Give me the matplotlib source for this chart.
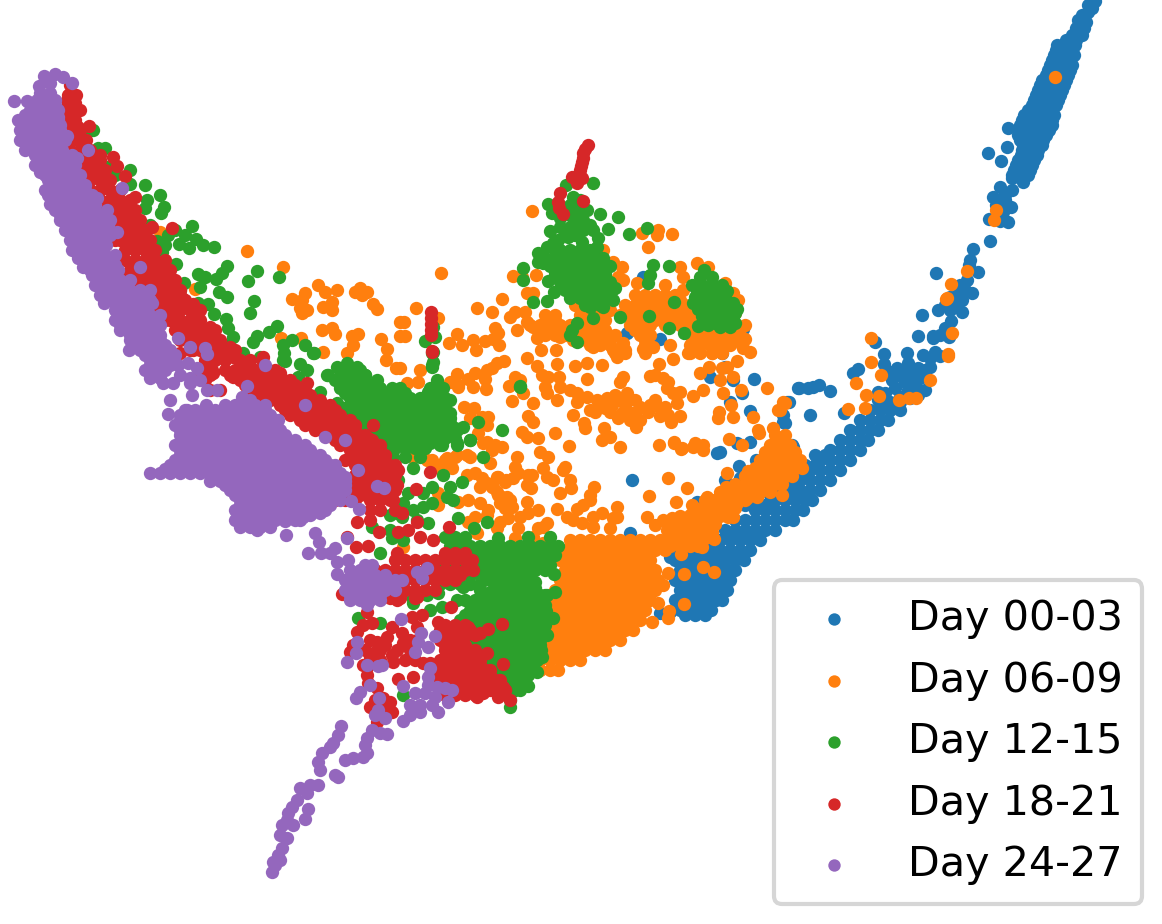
import matplotlib
matplotlib.use('Agg')
import matplotlib.pyplot as plt

labels = ['Day 00-03', 'Day 06-09', 'Day 12-15', 'Day 18-21', 'Day 24-27']
colors = ['tab:blue', 'tab:orange', 'tab:green', 'tab:red', 'tab:purple']

# every group: loose points, then dense patches written row by row (y, [x...])
day00_pts = [(1095,1),(1092,4),(1088,5),(1092,8),(1088,12),(1082,15),(1083,20),(1078,20),(1086,22),(1008,128),(1007,147),(988,153),(1001,161),(1023,182),(1012,178),
    (1000,187),(1012,190),(993,197),(1005,195),(1011,207),(1005,200),(989,219),(1008,222),(1000,221),(1003,212),(996,205),
    (990,241),(973,249),(970,260),(969,265),(978,272),(936,273),(967,280),(960,285),(965,290),(957,295),(972,293),
    (950,297),(962,300),(955,305),(945,305),(938,310),(962,312),(950,310),(922,315),(951,321),(945,328),(940,335),
    (918,336),(933,336),(949,337),(933,338),(875,342),(884,354),(884,364),(907,353),(923,355),(935,352),(940,356),(930,358),
    (908,363),(909,370),(930,367),(853,373),(858,369),(900,375),(910,375),(920,378),(892,380),(905,382),(915,385),(925,390),
    (895,388),(908,390),(918,395),(885,393),(878,392),(878,400),(799,388),(808,388),(813,387),(819,385),(830,391),(789,402),
    (810,415),(844,413),(710,377),(754,379),(798,388),(750,411),(787,402),
    (783,422),(660,339),(722,353),(725,367),(743,329),(730,343),(742,393),(730,402),(733,380),(750,442),(737,443),(720,452),
    (792,445),(687,308),(673,317),(643,277),(627,333),(632,480),(717,453),(739,466),(756,460),(785,423),(783,415),(725,480),
    (740,478),(780,485),(697,502),(723,500),(630,533),(670,557),(797,490),(793,447),(660,613),(670,612),
    (925,370),(918,368),(915,372),(900,397),(910,398),(897,368),(890,372)]
day00_rows = [(28,[1076,1084]),(35,[1072,1082]),(40,[1066,1076]),(45,[1057,1066,1075]),(50,[1056,1064,1072]),(55,[1054,1062,1070,1074]),(60,[1052,1060,1068]),
    (65,[1050,1058,1066,1072]),(70,[1048,1056,1064,1070]),(75,[1046,1054,1062,1068]),(80,[1042,1050,1058,1066]),(85,[1040,1048,1056,1064]),
    (90,[1038,1046,1054,1062]),(95,[1036,1044,1052,1060]),(100,[1034,1042,1050,1058]),(105,[1032,1040,1048,1056]),(110,[1028,1036,1044,1052]),
    (115,[1024,1032,1040,1048,1054]),(120,[1022,1030,1038,1046,1052]),(125,[1020,1028,1036,1044,1052]),(130,[1019,1027,1035,1043,1049]),
    (135,[1018,1026,1034,1042,1046]),(140,[1020,1028,1036,1043]),(145,[1023,1031,1039,1042]),(150,[1022,1030,1038]),
    (155,[1021,1029,1037]),(160,[1018,1026,1034]),(165,[1016,1024,1032]),(170,[1014,1022,1030]),(175,[1012,1020,1028]),
    (402,[880,890,900]),(410,[870,880,890,900]),(420,[860,870,880,888]),(430,[850,860,870,878]),(440,[840,850,860,868]),(450,[830,840,850,860]),
    (455,[815,825]),(460,[820,830,840,850]),(465,[805,815]),(470,[810,820,830,840]),(475,[795,805]),(480,[800,810,820,830]),(485,[785,795]),(490,[790,800,810,820]),(495,[770,780]),
    (500,[775,785,795,805,812]),(505,[745,755,765]),
    (510,[755,765,775,785,795,803]),(520,[735,745,755,765,775,785,793]),(530,[725,735,745,755,765,775]),
    (540,[700,710,720,730,740,750,760]),(550,[680,690,700,710,720,730,740,750]),(560,[675,685,695,705,715,725,735,744]),
    (570,[680,690,700,710,720,728,735]),(580,[675,685,695,705,715,724,730]),(590,[680,690,700,710,720,727]),(600,[675,685,695,705,716,722]),
    (610,[680,690,700,711]),(615,[685,695,705])]

day06_pts = [(1055,77),(996,210),(994,220),(967,271),(951,284),(947,298),(946,299),(952,333),(948,354),(948,356),(871,338),
    (871,362),(856,383),(881,375),(866,395),(865,408),(848,409),(879,396),(899,400),(909,398),(916,398),(930,380),
    (247,251),(283,267),(318,285),(325,292),(337,290),(355,292),(360,288),(367,292),(362,295),(373,304),(377,309),(305,293),(302,300),(292,299),
    (300,308),(307,310),(302,313),(323,307),(332,302),(332,310),(322,330),(332,328),(335,334),(352,336),(358,334),(353,345),(347,353),
    (381,339),(387,349),(386,360),(396,368),(400,322),(400,336),(281,338),(301,338),(323,352),(195,289),(160,232),
    (413,457),(407,455),(427,460),(438,467),(438,493),(438,505),(403,547),(450,382),(458,385),(458,502),(447,458),(457,455),(470,457),(505,482),(497,477),(493,487),(498,495),(510,500),(505,508),
    (532,211),(441,273),(416,308),(477,308),(502,299),(492,312),(404,322),(405,336),(438,318),(510,317),(515,312),(525,312),
    (527,322),(533,327),(517,330),(495,328),(498,333),(457,334),(449,343),(462,345),(473,340),(476,350),(485,341),(493,339),(499,345),
    (537,338),(541,350),(556,350),(527,358),(537,366),(557,364),(575,366),(587,363),(602,365),(504,361),(497,363),(492,368),(487,370),
    (485,379),(486,389),(475,373),(468,379),(473,387),(457,374),(458,387),(420,370),(418,382),(407,383),(400,368),
    (515,377),(509,386),(520,380),(523,393),(512,401),(533,403),(557,400),(528,416),(533,422),(573,415),(584,423),(585,428),
    (522,432),(527,437),(538,438),(555,433),(569,446),(464,407),(474,408),(488,417),(487,425),(478,433),(470,418),(482,417),
    (542,375),(548,377),(559,377),(545,387),(547,393),(560,387),(570,390),(577,393),(577,402),(587,379),(623,377),(620,382),
    (650,376),(655,375),(663,378),(668,382),(667,388),(673,393),(680,392),(677,403),(693,396),(703,390),
    (587,397),(597,400),(607,398),(615,395),(605,408),(612,405),(620,400),(627,393),(625,405),(635,400),(640,407),(632,413),(622,413),
    (630,420),(640,420),(648,412),(655,400),(660,408),(650,405),(665,407),(625,412),(590,410),(595,412),(600,405),(610,412),(618,418),
    (660,416),(668,415),(671,422),(680,416),(636,427),(604,428),(602,440),(610,437),(620,447),(659,445),(674,442),(682,448),(693,447),(703,445),
    (723,393),(741,390),(767,388),(731,405),(719,412),(718,418),(733,417),(753,417),(773,428),(758,430),(759,433),(783,402),(778,410),
    (729,439),(742,445),(700,373),(709,367),(722,368),(727,367),(720,380),(733,377),(737,361),(659,364),(673,359),
    (513,276),(522,277),(536,275),(533,293),(527,293),(642,233),(658,230),(657,235),(672,234),(648,247),
    (603,250),(613,262),(622,267),(618,277),(623,280),(637,283),(665,285),(680,267),(683,277),(697,263),(708,267),(683,290),(725,283),
    (733,293),(738,300),(735,313),(745,339),(743,348),(750,352),(643,349),(653,347),(670,345),(688,353),(712,353),
    (623,343),(613,350),(617,357),(625,350),(593,347),(573,340),(540,327),(555,320),(548,325),(555,333),(560,337),
    (487,442),(495,445),(502,447),(492,450),(490,463),(483,443),(467,455),(455,457),(445,460),(452,468),(440,465),(432,460),
    (517,457),(515,467),(518,473),(513,478),(506,480),(498,477),(540,452),(548,457),(543,468),(547,477),(553,480),(528,475),(532,475),(527,485),(531,488),
    (563,470),(565,467),(570,480),(571,488),(560,493),(594,487),(590,495),(590,500),(583,505),(577,509),
    (467,475),(475,473),(482,478),(480,487),(487,483),(492,487),(497,492),(502,497),(507,497),(512,507),(500,503),
    (468,500),(480,503),(488,510),(487,515),(527,502),(538,510),(557,509),(520,517),(528,513),(567,517),(573,520),(582,523),(547,523),(543,527),(538,528),
    (593,517),(602,513),(593,527),(610,528),(617,507),(617,517),(613,518),(508,518),(500,522),(497,528),(518,528),(515,538),(475,517),(468,522),(477,533),(533,537),(543,543),
    (649,496),(668,478),(687,488),(676,502),(647,517),(655,525),(663,520),(672,518),(667,530),(692,505),(690,515),(687,525),(695,523),(702,513),
    (707,497),(715,500),(705,505),(720,507),(710,513),(728,517),(733,517),(737,503),(727,473),(748,471),(726,487),(760,471),
    (737,488),(750,487),(757,497),(747,498),(782,495),(780,410),(785,403),(681,449),(695,443),(703,450),(674,443),
    (681,554),(668,573),(684,574),(703,567),(714,572),(702,547),(714,539),(684,604),(668,618),(669,611),(652,622),(663,585),(658,603)]
day06_rows = [(295,[635,645,655,665,675]),(300,[640,650,660,670,680]),(305,[575,585,625,635,645,655,665,675,685]),(310,[590,600,610,630,640,650,660,670,680,690]),
    (315,[545,555,580,590,600,620,630,640,650,660,670,680,690,700]),(320,[585,595,605,635,645,655,665,675,685,695,705,715]),
    (325,[530,540,550,560,570,580,590,600,630,640,650,665,680,690,700,710,720,735,745]),(330,[565,575,585,595,605,635,645,695,705,715,725,738]),
    (335,[545,555,565,575,585,595,605,615,640,650,690,700,710,720,730,740]),(340,[580,590,600,610,645,695,705,715,725,735]),
    (345,[590,600,610,622,645,690,700,710,720,730,742]),
    (353,[615,625,645,690,700,712,722]),
    (435,[775,785]),(445,[770,780,790]),(452,[765,775,785,795]),(460,[760,770,780,790,800]),(468,[755,765,775,785,795,802]),(476,[745,755,765,775,785,792]),
    (484,[735,745,755,765,775,782]),(492,[720,730,740,750,760,770]),(500,[705,715,725,735,745]),(508,[695,705,715,725,735]),(516,[680,690,700,710,720]),
    (524,[675,685,695,705,715]),(532,[670,680,690,700,712]),(538,[675,685,695,705]),(546,[670,680,690,698]),
    (540,[570,580,590,600,610,620,630,640,650,660,670]),(550,[565,575,585,595,605,615,625,635,645,655,665]),
    (560,[560,570,580,590,600,610,620,630,640,650]),(570,[565,575,585,595,605,615,625,635,645,655]),
    (580,[560,570,580,590,600,610,620,630,640,650,658]),(590,[555,565,575,585,595,605,615,625,635,645,655]),
    (600,[550,560,570,580,590,600,610,620,630,640,650]),(610,[545,555,565,575,585,595,605,615,625,635,645]),
    (620,[540,550,560,570,580,590,600,610,620,630,640]),(630,[545,555,565,575,585,595,605,615,625,633]),
    (640,[540,550,560,570,580,590,600,610,620]),(650,[535,545,555,565,575,585,595,605]),(660,[530,540,550,560,570,580]),
    (670,[530,540,550,558])]

day12_pts = [(90,130),(93,130),(98,148),(105,148),(107,167),(115,175),(130,184),(147,200),(145,208),(164,207),(161,213),(192,226),
    (175,230),(168,235),(185,235),(196,239),(157,241),(179,244),(189,248),(203,245),(214,247),(162,252),(176,264),(227,266),(222,273),(216,279),
    (198,274),(205,277),(200,287),(257,271),(248,281),(279,277),(184,283),(219,292),(227,297),(254,301),(250,313),(208,304),(214,314),(198,303),
    (226,319),(228,328),(233,337),(277,326),(269,332),(257,336),(253,342),(292,340),(283,345),(284,353),(285,361),(305,345),(314,353),(243,353),(260,357),
    (300,364),(307,370),(298,377),(328,375),(130,170),(145,185),(160,195),(150,225),(165,245),(180,290),(195,310),(205,330),(225,345),
    (337,367),(347,363),(357,367),(365,375),(313,353),(283,360),(320,392),(327,375),(337,403),(347,390),(478,422),(502,430),(483,457),(520,387),(432,365),(432,353),
    (463,427),(470,440),(457,443),(442,445),(413,468),(443,475),(398,480),(450,487),(462,482),(447,497),(453,500),(432,487),(423,493),(432,503),(423,507),
    (408,493),(403,503),(397,513),(402,517),(413,510),(417,520),(428,523),(390,515),(487,522),(474,528),(458,518),(498,538),(372,527),(390,530),(392,538),(403,540),(380,553),
    (547,595),(555,592),(535,582),(554,574),(546,611),(553,618),(542,622),(547,635),(542,657),(537,672),(528,686),(510,707),
    (413,603),(430,610),(442,607),(457,600),(438,593),(412,597),(427,595),(463,587),(480,590),(358,618),(380,623),(403,695),
    (593,183),(566,185),(548,204),(552,213),(600,214),(618,217),(608,229),(629,234),(647,228),(550,231),
    (573,197),(570,205),(577,210),(573,217),(560,218),(560,227),(570,227),(583,220),(587,210),(583,230),(593,230),(598,238),(597,247),(582,242),(558,240),(568,237),
    (575,205),(565,210),(570,215),(575,225),(565,232),(590,225),(575,235),(580,200),
    (547,247),(538,253),(538,262),(543,263),(553,243),(555,250),(563,253),(615,288),(613,300),(585,305),(590,307),(603,307),(593,318),(620,317),
    (548,281),(554,292),(547,301),(533,302),(523,268),(523,280),(577,323),(572,330),(570,335),(577,342),(649,316),(669,328),(684,333),(698,326),(708,325),(720,327),(730,327),(674,302),
    (653,265),(669,266),(650,275),(648,283),(704,270),(735,313),(425,341),(433,327),(435,337),(433,352),(433,362),(432,367),
    (437,380),(443,388),(428,392),(438,393),(450,400),(438,403),(520,386),(470,440),(457,445),(440,445),(450,413),(457,430)]
day12_rows = [(370,[340,350,360]),(375,[345,355,365]),(380,[335,345,355,365,377]),(388,[340,350,360,370,380,392,400,430,440]),(393,[345,355,365,375,385,395,405,435]),
    (398,[350,360,370,380,390,400,410,420,430,440,445]),(403,[355,365,375,385,395,405,415,425,435,445]),(408,[345,355,365,375,385,395,405,415,425,435,445]),
    (413,[350,360,370,380,390,400,410,420,430,440,448]),(418,[350,360,370,380,390,400,410,420,430,440,450]),(423,[360,370,380,390,400,410,420,430,440,450]),
    (428,[365,375,385,395,405,415,425,435,445,455]),(433,[370,380,390,400,410,420,430,440,450]),
    (438,[375,385,395,405,415,425,435,445,455]),(443,[380,390,400,410,420,430]),(448,[385,395,405,415,425]),(457,[393,405,420]),
    (537,[445,455,465,528,550]),(546,[450,460,470,480,490,500,510,520,530,540,550,558]),(555,[445,455,465,475,485,495,505,515,525,535,545,555]),
    (565,[440,450,460,470,480,490,500,510,520,530,540,550]),(570,[455,465,475,485,495,505,515,525,535,545]),(575,[450,460,470,480,490,500,510,520,530]),
    (580,[490,505,520,530]),(584,[440,450,460,470,480,500,515,527]),(588,[495,505,515,525,535]),
    (592,[490,500,515,525,535]),(595,[490,500,510,520,530,540,545]),(600,[465,475,485,490,500,510,520,530,540]),(605,[475,485,495,505,515,525,535,545]),
    (610,[470,480,490,500,510,520,530,540]),(615,[465,475,485,495,505,515,525,535,545]),(620,[460,470,480,490,500,510,520,530,540]),(625,[465,475,485,495,505,515,525,535,545]),
    (630,[455,465,475,485,495,505,515,525,535,543]),(635,[470,480,490,500,510,520,530,540]),(640,[470,480,490,500,510,520,530,540]),(645,[480,490,500,510,520,530,540]),
    (650,[475,485,495,505,515,525,535,541]),(655,[485,495,505,515,525,535]),
    (660,[480,490,500,510,520,530,537]),(665,[495,505,515,525,533]),(670,[490,500,510,520,530]),(675,[500,510,520,528]),(680,[500,510,520,525]),(690,[505,515,520]),(700,[510]),
    (250,[560,570,580,590]),(258,[545,555,565,575,585,595,603]),(266,[550,560,570,580,590,600,610]),(274,[555,565,575,585,595,605]),(282,[560,570,580,590,600,610]),
    (290,[565,575,585,595,605,612]),(298,[570,580,590,600,610]),(305,[590,600]),
    (277,[700,712]),(285,[692,702,712,722]),(291,[697,707,717,727]),(297,[695,705,715,725]),(303,[693,703,713,723,733]),(309,[698,708,718,728,737]),(316,[702,712,722,733]),(323,[715,725,735])]

day18_pts = [(70,85),(67,100),(75,103),(77,110),(73,120),(78,127),(89,126),(80,140),(100,155),(97,163),(113,157),(117,166),(125,176),(98,177),(103,188),(113,200),
    (135,197),(133,215),(125,207),(152,227),(172,228),(117,220),(133,230),(142,237),(127,243),(147,253),(157,263),(170,278),(120,260),(133,267),(127,277),(147,277),(157,287),
    (173,293),(182,298),(167,307),(175,318),(193,304),(197,318),(210,327),(203,333),(213,338),(230,347),(183,337),(193,350),(180,353),(207,362),(220,353),(233,357),(243,363),(263,357),(280,373),
    (213,373),(233,377),(253,377),(62,135),(70,135),(85,150),(90,170),(100,200),(110,215),(115,240),(135,250),(140,265),(150,275),(160,300),(165,320),(180,330),
    (307,383),(330,410),(373,425),(368,438),(398,470),(387,483),(416,489),(430,472),(432,352),(449,527),(357,522),(370,520),(379,532),(393,500),(402,513),
    (398,532),(408,530),(417,522),(420,537),(433,540),(347,537),(356,547),(368,546),(342,594),(397,600),(417,597),(451,607),(397,553),
    (502,624),(488,629),(480,633),(468,627),(453,627),(438,622),(422,615),(412,617),(417,627),(392,627),(372,623),(363,625),(357,632),(367,612),
    (402,633),(403,643),(387,637),(377,642),(370,640),(353,645),(350,652),(365,650),(370,657),(367,667),(363,665),(393,662),(397,650),(392,655),(417,640),
    (367,675),(368,683),(377,688),(398,679),(413,677),(370,707),(390,702),(392,712),(383,698),(377,722),(463,650),(472,652),(487,653),(503,664),(490,675),(495,680),
    (430,663),(423,663),(450,628),(453,637),(450,647),(457,645),(477,697),(483,693),(498,697),(510,700),(505,690),(503,687),
    (588,145),(583,153),(582,162),(580,170),(578,180),(572,177),(582,178),(577,183),(583,201),(560,193),(558,202),(559,208),(563,214),(585,149),(583,158),(581,166),(579,175),
    (431,312),(431,318),(431,324),(431,330),(431,335),(432,351),
    (380,650),(385,645),(375,652),(380,660),(410,640),(410,650),(405,660),(415,660),(375,700),(385,708),(380,715)]
day18_rows = [(95,[68,76]),(110,[62,70,80]),(120,[65,75]),(130,[70,80]),(140,[70,78,86]),(150,[70,80,90]),(160,[80,90,100]),(170,[85,95,105]),
    (180,[90,100,110]),(190,[90,100,110,120]),(200,[100,110,120,130]),(210,[105,115,125,135]),(220,[110,120,130,140]),(230,[115,125,135,145]),
    (240,[120,130,140,150]),(250,[125,135,145,155]),(260,[125,135,145,155,165]),(270,[130,140,150,160,170]),(280,[135,145,155,165,175]),
    (290,[150,160,170,180]),(300,[155,165,175,185]),(310,[160,170,180,190,200]),(320,[170,180,190,200]),(330,[175,185,195,205,215]),(340,[180,190,200,210,220]),
    (350,[190,200,215,225,235]),(360,[205,215,225,240,250,262]),(370,[200,212,225,235,245,255,265,275]),(375,[210,230,240,250,260,270,280]),(380,[205,240,250,260,270,280,290]),
    (385,[245,255,265,275,285,295]),(390,[210,220,250,255,265,275,285,295,305]),(395,[260,270,280,290,300,310]),(400,[270,280,290,300,310,320]),(405,[280,290,300,310,320,330]),
    (410,[285,295,305,315,325,335]),(415,[290,300,310,320,330,340]),(420,[300,310,320,330,340,350]),(425,[305,315,325,335,345,355]),
    (430,[315,325,335,345,355]),(435,[325,335,345,355,365]),(440,[335,345,355,365,372]),(445,[340,350,360,370,380]),(450,[350,360,370,380]),(455,[355,365,375,385]),
    (460,[345,355,365,375,385]),(465,[355,365,375,385,395]),(470,[365,375,385,395]),(475,[355,365,375,385,395]),
    (480,[360,370,380,390]),(485,[350,360,370,380,390,397]),(490,[345,355,365,375,385,395]),(495,[340,350,360,370,380,390]),(500,[335,345,355,370,380,390]),(510,[370,380,395]),
    (553,[445,455,465]),(560,[395,405,415,425,435,445,455,465,472]),(570,[375,385,395,405,415,425,435,445,455,465,473]),
    (575,[400,410,420,430,440,450,460]),(580,[395,405,415,425,435,445,455]),(590,[395,405,415,425,435]),(598,[390,400,415]),
    (625,[445,455,465]),(630,[440,450,460,470]),(635,[445,455,465,475]),(640,[440,450,460]),(645,[445,455,465]),(650,[445,455,465,475]),(655,[450,460]),
    (660,[440,450,460,470,480]),(665,[430,440,450,460,470,480]),(670,[435,445,455,465,475,485,490]),
    (675,[430,440,450,460,470,480]),(680,[440,450,460,470,480,490,500]),(685,[440,450,460,470,480,490,500]),(690,[450,460,470,480,490,505]),(695,[445,455,465,475])]

day24_pts = [(44,76),(55,74),(63,77),(72,83),(39,86),(50,83),(14,101),(27,101),(58,117),(67,136),(88,150),(77,158),(35,165),(50,204),(97,198),(107,210),
    (107,227),(117,232),(83,267),(140,267),(104,303),(132,293),(143,298),(152,303),(178,338),(129,350),(190,347),(205,348),(207,354),(188,363),(197,368),(265,365),
    (180,375),(190,378),(200,380),(122,188),(163,383),(173,383),(190,383),(217,390),(207,390),(170,400),(168,414),(187,410),(192,395),(206,405),(247,386),(305,405),(242,397),(250,400),
    (325,437),(345,440),(358,470),(377,486),(384,488),(351,501),(359,509),(320,513),(303,517),(285,521),(286,535),(257,530),
    (315,533),(319,542),(308,553),(321,553),(330,553),(335,548),(337,562),(348,560),(337,574),(347,538),(367,605),(417,572),(427,568),(422,578),
    (401,619),(421,633),(418,642),(435,636),(428,647),(415,652),(357,642),(356,653),(347,662),(367,665),(378,666),(382,665),(370,685),(360,692),(356,698),
    (379,698),(378,710),(375,715),(385,718),(403,686),(430,668),(428,677),(428,685),(437,687),(445,688),(452,690),(415,693),(425,693),(435,697),(448,702),(410,705),(420,705),(432,705),(438,712),(403,721),(410,715),(420,712),
    (341,726),(338,735),(333,743),(330,747),(322,753),(318,762),(320,770),(335,775),(338,777),(372,730),(367,738),(365,745),(367,753),(363,757),(353,758),(345,760),(387,734),(380,733),
    (318,785),(310,785),(300,788),(307,793),(297,800),(292,807),(288,813),(287,820),(293,825),(282,825),(280,835),(287,838),(308,809),(305,819),(282,848),(278,855),(280,860),(273,862),(272,872),(275,865)]
day24_rows = [(93,[40,50]),(100,[37,47,55]),(105,[35,45,55]),(110,[30,40,50,58]),(115,[25,35,45,55]),(120,[18,28,38,48,58]),(125,[23,33,43,53,60]),(130,[20,30,40,50,60]),(135,[25,35,45,55]),
    (140,[20,30,40,50,57,65]),(145,[30,40,50,60]),(150,[25,35,45,55,62]),(155,[35,45,55,65,72]),
    (160,[42,50,60,70]),(165,[45,55,65,75]),(172,[40,50,60,70,75]),(175,[45,55,65,75,80]),(180,[48,58,68,78]),(185,[50,60,70,80,85]),(190,[45,55,65,75,85]),(195,[48,58,68,78,88,92]),
    (200,[60,70,80,90]),(205,[55,65,75,85,95]),(210,[55,65,75,85,95]),(215,[60,70,80,90,100]),
    (220,[60,70,80,90,100,110]),(225,[68,78,88,98,108]),(230,[65,75,85,95]),(235,[72,82,92,102,110]),(240,[70,80,90,100]),(245,[76,86,96,106]),(250,[72,82,92,102]),(255,[85,95,105,115]),(258,[78,88,98,105]),
    (265,[85,95,105,115]),(270,[90,100,110,118]),(275,[92,102,112]),(280,[100,110,120,130]),
    (285,[95,105,115,122]),(290,[110,120,130,140,150]),(295,[100,110,120]),(300,[110,120,130,140,150]),(310,[115,125,135,145]),(315,[120,130,140,150,160]),(320,[115,125,135,145,155]),(325,[120,130,140,150,160]),(330,[120,130,140,150,155]),
    (335,[130,140,150,160]),(340,[130,140,150,160]),(345,[135,145,155,165]),
    (350,[140,150,160,170]),(355,[145,155,165,175]),(360,[150,160,170]),(365,[150,160,170,178]),(370,[145,155,165]),(378,[150,160]),
    (405,[225,235,245,255,265]),(410,[185,195,205,215,225,235,245,255,265]),(415,[180,190,200,210,220,230,240,250,260,270]),(420,[180,190,200,210,220,230,240,250,260,270,278]),(425,[175,185,195,205,215,225,235,245,255,265,275]),
    (430,[180,190,200,210,220,230,240,250,260,270,280]),(435,[180,190,200,210,220,230,240,250,260,270,280,285]),(440,[185,195,205,215,225,235,245,255,265,275,285,295]),(445,[175,185,195,205,215,225,235,245,255,265,275,285,295,305]),
    (450,[180,190,200,210,220,230,240,250,260,270,280,290,300,310]),(455,[180,190,200,210,220,230,240,250,260,270,280,290,300,310,320]),(460,[175,185,195,205,215,225,235,245,255,265,275,285,295,305,315,325]),
    (465,[170,180,190,200,210,220,230,240,250,260,270,280,290,300,310,320,330,335]),(469,[165,175,185,195,205,215,225,235,245,255,265,275,285,295,305,315,325,335]),
    (473,[150,160,170,180,190,200,210,220,230,240,250,260,270,280,290,300,310,320,330,340]),(477,[215,225,235,245,255,265,275,285,295,305,315,325,335,345]),
    (481,[210,220,230,240,250,260,270,280,290,300,310,320,330,340,345]),(485,[225,235,245,255,265,275,285,295,305,315,325,335,345]),(490,[230,240,250,260,270,280,290,300,310,320,330,340,345]),
    (495,[235,245,255,265,275,285,295,305,315,325,335]),(500,[240,250,260,270,280,290,300,310,320,330,340]),(505,[240,250,260,270,280,290,300,310,320,330]),(510,[235,245,255,265,275,285,295,305,315,325]),
    (515,[240,250,260,270,280,290,300,310]),(520,[235,245,255,265,275,285,295,300]),(527,[240,250,260,270]),
    (565,[365,372]),(570,[350,360,370]),(575,[355,365,375,385]),(580,[345,355,365,375,385,395,402]),(585,[350,360,370,380,390]),(590,[345,355,365,375,385,395]),(595,[350,360,370,380]),(600,[350,360,370,380])]

groups = [(day00_pts, day00_rows), (day06_pts, day06_rows), (day12_pts, day12_rows), (day18_pts, day18_rows), (day24_pts, day24_rows)]

fig = plt.figure(figsize=(11.62, 9.24), dpi=100)
ax = fig.add_axes([0, 0, 1, 1])

for i in range(5):
    pts, rows = groups[i]
    xs = [p[0] for p in pts]
    ys = [p[1] for p in pts]
    for y, row in rows:
        xs += row
        ys += [y]*len(row)
    ax.scatter(xs, ys, s=92, color=colors[i], linewidths=0, label=labels[i])

ax.set_xlim(0, 1162)
ax.set_ylim(924, 0)
ax.axis('off')

leg = ax.legend(loc='lower right', bbox_to_anchor=(1142, 904), bbox_transform=ax.transData,
                fontsize=29.7, borderaxespad=0, borderpad=0.46, labelspacing=0.52, markerscale=0.93, fancybox=True)
leg.get_frame().set_linewidth(3)

plt.savefig('out.png', dpi=100)
